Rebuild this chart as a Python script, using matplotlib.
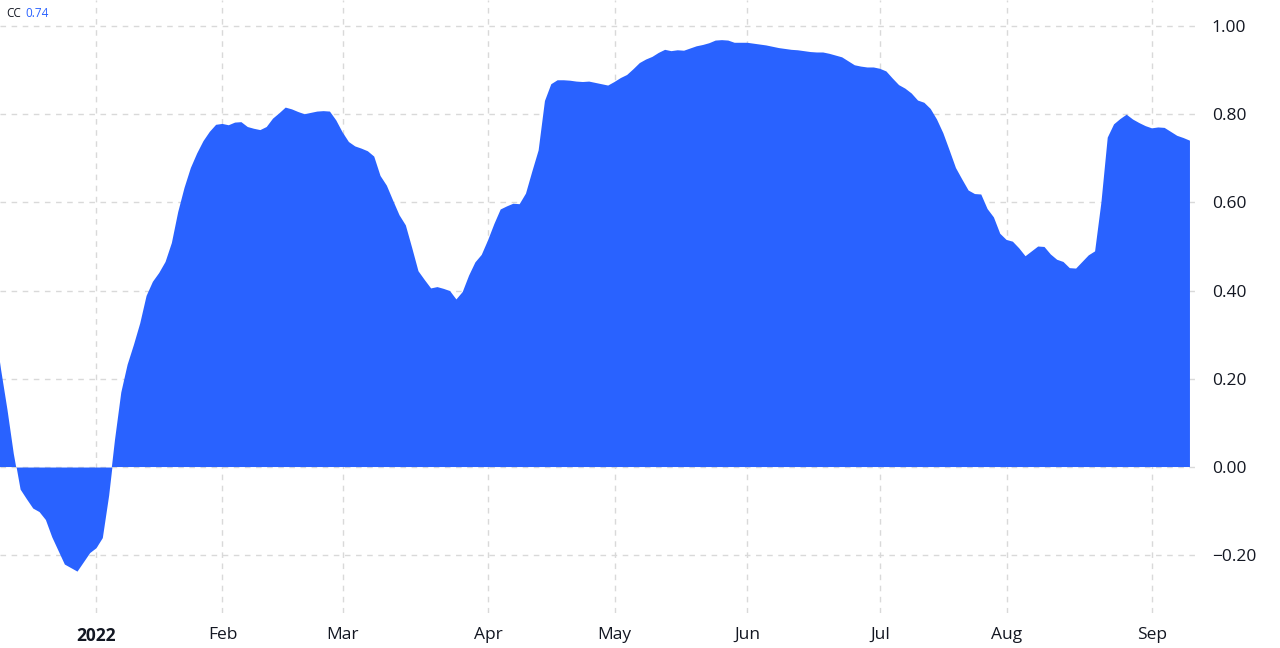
import numpy as np
import pandas as pd
import matplotlib
matplotlib.use("Agg")
import matplotlib.pyplot as plt

# ---- data -------------------------------------------------------------
holidays = ["2021-12-24", "2022-01-17", "2022-02-21", "2022-04-15",
            "2022-05-30", "2022-06-20", "2022-07-04", "2022-09-05"]
start_date = "2021-12-09"
end_date = "2022-09-12"

cc_values = [
    0.32, 0.22, 0.13, 0.03, -0.05, -0.072, -0.093, -0.101, -0.119, -0.158,
    -0.189, -0.220, -0.228, -0.236, -0.215, -0.194,
    # Jan 2022
    -0.183, -0.160, -0.064, 0.061, 0.169, 0.232, 0.277, 0.326, 0.388, 0.420,
    0.440, 0.465, 0.508, 0.578, 0.633, 0.678, 0.711, 0.739, 0.760, 0.776,
    # Feb
    0.778, 0.775, 0.781, 0.782, 0.771, 0.767, 0.764, 0.771, 0.790, 0.802,
    0.815, 0.811, 0.805, 0.800, 0.803, 0.806, 0.807, 0.806, 0.786,
    # Mar
    0.759, 0.737, 0.727, 0.722, 0.716, 0.704, 0.660, 0.638, 0.604, 0.571,
    0.548, 0.497, 0.444, 0.424, 0.405, 0.408, 0.404, 0.399, 0.380, 0.397,
    0.434, 0.464, 0.481,
    # Apr
    0.514, 0.551, 0.584, 0.591, 0.597, 0.596, 0.620, 0.670, 0.718, 0.830,
    0.868, 0.877, 0.877, 0.876, 0.874, 0.873, 0.874, 0.871, 0.868, 0.865,
    # May
    0.873, 0.882, 0.889, 0.902, 0.916, 0.924, 0.930, 0.939, 0.946, 0.943,
    0.945, 0.944, 0.949, 0.954, 0.957, 0.961, 0.967, 0.968, 0.967, 0.962,
    0.962,
    # Jun
    0.962, 0.960, 0.958, 0.956, 0.953, 0.950, 0.948, 0.946, 0.945, 0.943,
    0.941, 0.940, 0.940, 0.937, 0.933, 0.929, 0.920, 0.911, 0.908, 0.906,
    0.906,
    # Jul
    0.903, 0.897, 0.881, 0.866, 0.858, 0.847, 0.831, 0.826, 0.812, 0.788,
    0.757, 0.718, 0.678, 0.652, 0.627, 0.619, 0.618, 0.585, 0.566, 0.529,
    # Aug
    0.515, 0.511, 0.496, 0.478, 0.489, 0.500, 0.499, 0.482, 0.470, 0.465,
    0.451, 0.450, 0.465, 0.480, 0.489, 0.600, 0.747, 0.777, 0.789, 0.799,
    0.788, 0.780, 0.773,
    # Sep
    0.768, 0.770, 0.769, 0.760, 0.751, 0.746, 0.740,
]

month_labels = ["2022", "Feb", "Mar", "Apr", "May", "Jun", "Jul", "Aug", "Sep"]
month_starts = ["2022-01-01", "2022-02-01", "2022-03-01", "2022-04-01",
                "2022-05-01", "2022-06-01", "2022-07-01", "2022-08-01",
                "2022-09-01"]
y_ticks = [-0.20, 0.00, 0.20, 0.40, 0.60, 0.80, 1.00]

# ---- build trading-day axis ---------------------------------------------
cbd = pd.offsets.CustomBusinessDay(holidays=holidays)
dates = pd.date_range(start_date, end_date, freq=cbd)
n = min(len(dates), len(cc_values))
dates = dates[:n]
vals = np.array(cc_values[:n])
jan3 = int(np.searchsorted(dates, pd.Timestamp("2022-01-03")))
x = np.arange(n) - jan3

tick_pos = []
for m in month_starts:
    i = int(np.searchsorted(dates, pd.Timestamp(m)))
    tick_pos.append(i - jan3)

# ---- plot ---------------------------------------------------------------
BLUE = "#2962FF"
TXT = "#131722"
GRID = "#d9d9d9"

fig = plt.figure(figsize=(12.8, 6.48), dpi=100)
ax = fig.add_axes([0.0, 0.054, 0.9336, 0.946])

ax.fill_between(x, vals, 0, where=vals >= 0, interpolate=True,
                color=BLUE, linewidth=0, zorder=2)
ax.fill_between(x, vals, 0, where=vals <= 0, interpolate=True,
                color=BLUE, linewidth=0, zorder=2)

ax.set_xlim(-15.18, 173.8)
ax.set_ylim(-0.331, 1.059)

ax.set_yticks(y_ticks)
ax.set_yticklabels([f"{v:.2f}".replace("-", "\u2212") for v in y_ticks])
ax.set_xticks(tick_pos)
ax.set_xticklabels(month_labels)

ax.yaxis.tick_right()
ax.tick_params(axis="y", length=0, pad=12, labelsize=12.5, colors=TXT)
ax.tick_params(axis="x", length=0, pad=10, labelsize=12.5, colors=TXT)
for lbl in ax.get_xticklabels():
    lbl.set_fontfamily("Open Sans")
    if lbl.get_text() == "2022":
        lbl.set_fontweight("bold")
for lbl in ax.get_yticklabels():
    lbl.set_fontfamily("Open Sans")

ax.grid(True, color=GRID, linestyle=(0, (4, 4)), linewidth=1.0, zorder=0)
for s in ax.spines.values():
    s.set_visible(False)

ax.text(0.005, 0.978, "CC", transform=ax.transAxes, fontsize=8.5,
        color=TXT, va="center", ha="left", family="Open Sans")
ax.text(0.021, 0.978, "0.74", transform=ax.transAxes, fontsize=8.5,
        color=BLUE, va="center", ha="left", family="Open Sans")

fig.savefig("out.png", dpi=100, facecolor="white")
